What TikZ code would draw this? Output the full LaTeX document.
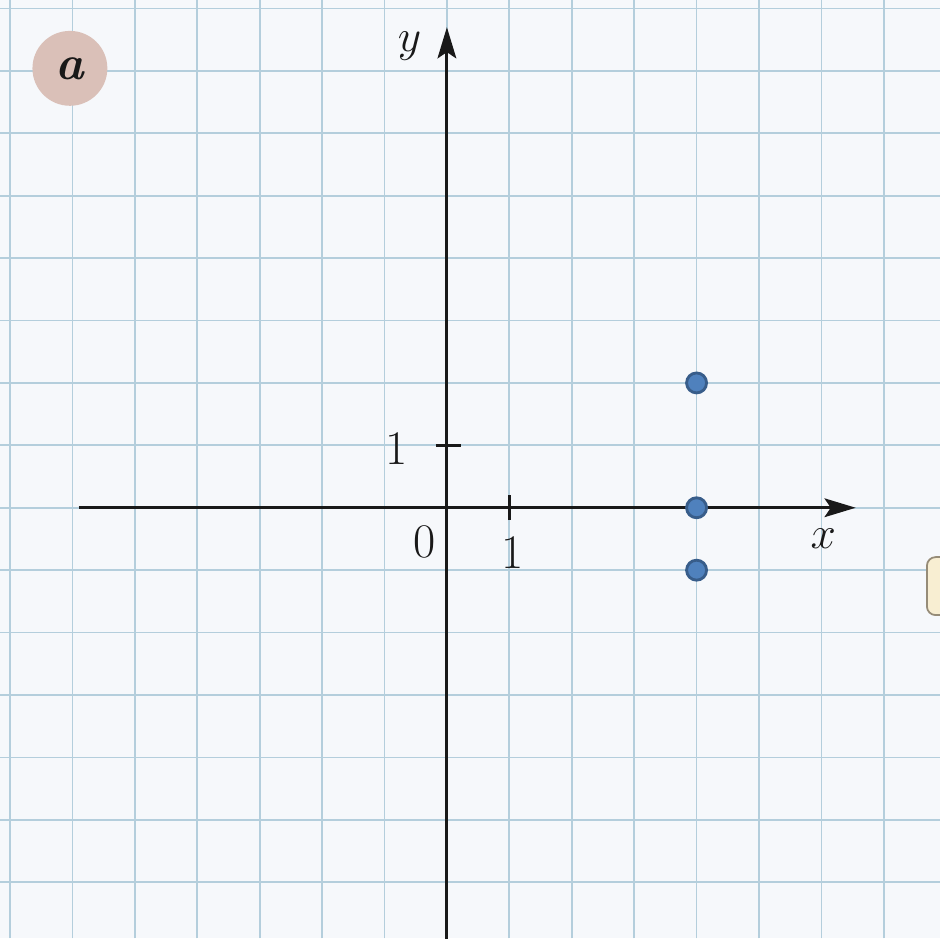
\documentclass[tikz,border=0pt]{standalone}
\usetikzlibrary{arrows.meta}
\definecolor{gridblue}{RGB}{180,206,220}
\definecolor{paper}{RGB}{246,248,251}
\definecolor{badge}{RGB}{218,192,184}
\definecolor{dotfill}{RGB}{79,129,189}
\definecolor{dotline}{RGB}{56,93,138}
\definecolor{notefill}{RGB}{248,238,210}
\definecolor{noteline}{RGB}{150,140,120}
\definecolor{ink}{RGB}{25,25,25}
\tikzset{
  axis/.style={ink, line width=1.3pt, -{Stealth[length=5mm,width=3mm,inset=1mm]}},
  tick/.style={ink, line width=1.1pt},
  lbl/.style={text=ink, font=\fontsize{22}{26}\selectfont, inner sep=0pt},
  dot/.style={circle, fill=dotfill, draw=dotline, line width=1.3pt, minimum size=0.32cm, inner sep=0pt},
}
\begin{document}
\begin{tikzpicture}
\useasboundingbox[fill=paper] (-7.16,-6.9) rectangle (7.9,8.135);
\clip (-7.16,-6.9) rectangle (7.9,8.135);
\draw[gridblue, line width=0.8pt] (-7.16,-6.9) grid (7.9,8.135);
%\draw[red] (0,0) circle (0.1);

\coordinate (xstart) at (-5.9,0);
\coordinate (xend) at (6.55,0);
\coordinate (ystart) at (0,-7);
\coordinate (yend) at (0,7.7);
\coordinate (tx) at (1,0);
\coordinate (ty) at (0,1);

\draw[axis] (xstart) to (xend);
\draw[axis] (ystart) to (yend);
\draw[tick] ([yshift=-0.2cm]tx) to ([yshift=0.2cm]tx);
\draw[tick] ([xshift=-0.18cm]ty) to ([xshift=0.22cm]ty);

\node[lbl] (zero) at (-0.35,-0.55) {0};
\node[lbl] (onex) at (1.05,-0.72) {1};
\node[lbl] (oney) at (-0.8,0.95) {1};
\node[lbl] (xlab) at (6.03,-0.5) {$x$};
\node[lbl] (ylab) at (-0.6,7.4) {$y$};

\node[circle, fill=badge, minimum size=1.2cm, inner sep=0pt, text=ink,
  font=\fontsize{22}{26}\selectfont\bfseries\itshape] (tag) at (-6.04,7.04) {a};

\node[dot] (p1) at (4,2) {};
\node[dot] (p2) at (4,0) {};
\node[dot] (p3) at (4,-1) {};

\draw[noteline, fill=notefill, rounded corners=4pt, line width=0.8pt] (7.69,-0.79) rectangle (8.6,-1.72);
\end{tikzpicture}
\end{document}
